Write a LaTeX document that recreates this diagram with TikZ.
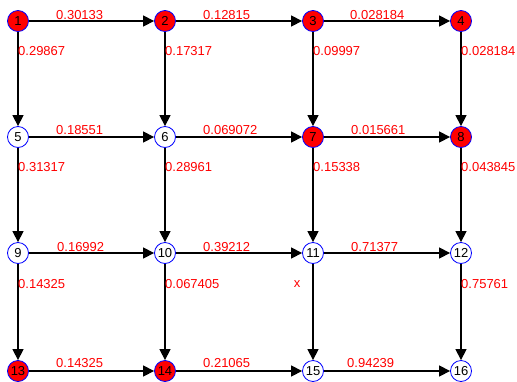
\documentclass[tikz,border=0pt]{standalone}
\usepackage{fontspec}
\setmainfont{Liberation Sans}
\usetikzlibrary{arrows.meta}
\tikzset{
  vtx/.style={circle, draw=blue, line width=0.8pt, minimum size=21pt, inner sep=0pt, font=\fontsize{13}{15}\selectfont},
  hot/.style={vtx, fill=red},
  cold/.style={vtx, fill=white},
  edge/.style={line width=1.3pt, -{Triangle[length=11pt,width=11pt]}, shorten >=0pt},
  wlab/.style={text=red, font=\fontsize{13}{15}\selectfont, inner sep=0pt, anchor=west},
}
\begin{document}
\begin{tikzpicture}[x=1pt,y=-1pt]
\useasboundingbox (0,0) rectangle (517,381);
% nodes
\node[hot]  (n1)  at (18,21)  {1};
\node[hot]  (n2)  at (165,21) {2};
\node[hot]  (n3)  at (313,21) {3};
\node[hot]  (n4)  at (461,21) {4};
\node[cold] (n5)  at (18,137)  {5};
\node[cold] (n6)  at (165,137) {6};
\node[hot]  (n7)  at (313,137) {7};
\node[hot]  (n8)  at (461,137) {8};
\node[cold] (n9)  at (18,253)  {9};
\node[cold] (n10) at (165,253) {10};
\node[cold] (n11) at (313,253) {11};
\node[cold] (n12) at (461,253) {12};
\node[hot]  (n13) at (18,371)  {13};
\node[hot]  (n14) at (165,371) {14};
\node[cold] (n15) at (313,371) {15};
\node[cold] (n16) at (461,371) {16};
% horizontal edges
\draw[edge] (n1) -- (n2);
\draw[edge] (n2) -- (n3);
\draw[edge] (n3) -- (n4);
\draw[edge] (n5) -- (n6);
\draw[edge] (n6) -- (n7);
\draw[edge] (n7) -- (n8);
\draw[edge] (n9) -- (n10);
\draw[edge] (n10) -- (n11);
\draw[edge] (n11) -- (n12);
\draw[edge] (n13) -- (n14);
\draw[edge] (n14) -- (n15);
\draw[edge] (n15) -- (n16);
% vertical edges
\draw[edge] (n1) -- (n5);
\draw[edge] (n2) -- (n6);
\draw[edge] (n3) -- (n7);
\draw[edge] (n4) -- (n8);
\draw[edge] (n5) -- (n9);
\draw[edge] (n6) -- (n10);
\draw[edge] (n7) -- (n11);
\draw[edge] (n8) -- (n12);
\draw[edge] (n9) -- (n13);
\draw[edge] (n10) -- (n14);
\draw[edge] (n11) -- (n15);
\draw[edge] (n12) -- (n16);
% horizontal labels
\node[wlab] (l12)   at (56,15)   {0.30133};
\node[wlab] (l23)   at (203,15)  {0.12815};
\node[wlab] (l34)   at (350,15)  {0.028184};
\node[wlab] (l56)   at (56,130)  {0.18551};
\node[wlab] (l67)   at (203,130) {0.069072};
\node[wlab] (l78)   at (351,130) {0.015661};
\node[wlab] (l910)  at (57,247)  {0.16992};
\node[wlab] (l1011) at (203,247) {0.39212};
\node[wlab] (l1112) at (351,247) {0.71377};
\node[wlab] (l1314) at (56,363)  {0.14325};
\node[wlab] (l1415) at (203,363) {0.21065};
\node[wlab] (l1516) at (347,363) {0.94239};
% vertical labels
\node[wlab] (l15)   at (18,51)   {0.29867};
\node[wlab] (l26)   at (165,51)  {0.17317};
\node[wlab] (l37)   at (313,51)  {0.09997};
\node[wlab] (l48)   at (461,51)  {0.028184};
\node[wlab] (l59)   at (18,167)  {0.31317};
\node[wlab] (l610)  at (165,167) {0.28961};
\node[wlab] (l711)  at (313,167) {0.15338};
\node[wlab] (l812)  at (461,167) {0.043845};
\node[wlab] (l913)  at (18,284)  {0.14325};
\node[wlab] (l1014) at (165,284) {0.067405};
\node[wlab, anchor=center] (l1115) at (297,284) {x};
\node[wlab] (l1216) at (461,284) {0.75761};
\end{tikzpicture}
\end{document}
